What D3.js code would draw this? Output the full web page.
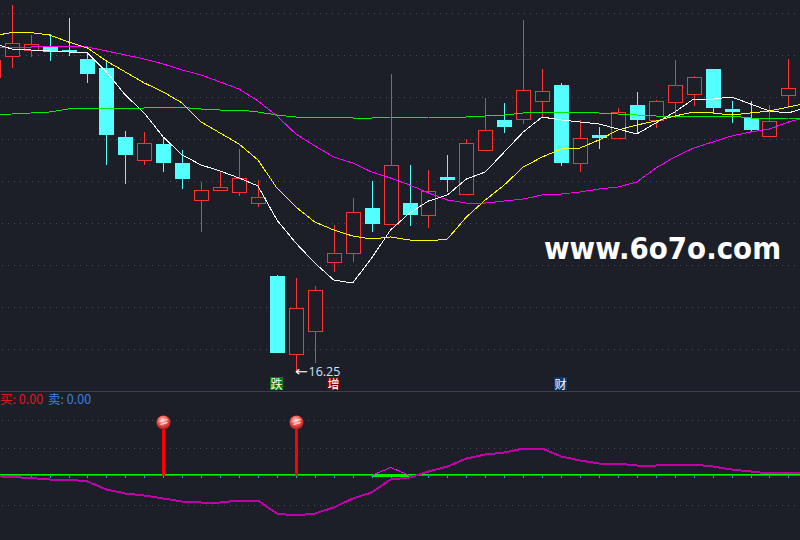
<!DOCTYPE html>
<html>
<head>
<meta charset="utf-8">
<script src="https://cdn.jsdelivr.net/npm/d3@7"></script>
<style>
  html, body { margin: 0; padding: 0; background: #1c1f28; overflow: hidden; }
  svg { display: block; }
</style>
</head>
<body>
<script>
// candles, oldest first
const opens  = [22.13,22.55,22.67,22.73,22.67,22.49,22.31,20.93,20.47,20.79,20.41,19.67,19.87,19.83,19.61,18.15,16.59,17.05,18.43,18.61,19.51,19.19,19.61,19.37,20.13,19.79,20.67,21.27,21.29,21.65,21.97,20.41,20.97,20.91,21.57,21.27,21.63,21.79,22.29,21.49,21.31,20.95,21.77];
const closes = [22.47,22.81,22.79,22.63,22.63,22.19,20.97,20.57,20.81,20.41,20.09,19.87,19.93,20.11,19.73,16.61,17.51,17.87,18.61,19.43,19.19,20.37,19.37,19.85,20.07,20.81,21.07,21.13,21.87,21.85,20.41,20.91,20.91,21.43,21.27,21.65,21.97,22.13,21.51,21.43,21.07,21.25,21.91];
const highs  = [22.47,23.57,22.97,22.99,23.31,22.61,22.45,21.05,21.03,20.91,20.67,20.03,20.25,20.69,20.07,18.17,18.11,17.95,19.17,19.71,20.05,22.19,20.37,20.27,20.57,20.89,21.71,21.61,23.27,22.29,22.01,21.27,21.13,21.51,21.83,21.67,22.47,22.15,22.29,21.65,21.65,21.57,22.49];
const lows   = [22.13,22.31,22.53,22.45,22.55,22.01,20.37,19.99,20.37,20.23,19.89,19.03,19.87,19.75,19.53,16.61,16.25,16.41,18.23,18.43,19.03,19.19,19.15,19.11,19.83,19.79,20.67,21.01,21.19,21.33,20.35,20.23,20.69,20.91,20.99,21.11,21.31,21.55,21.41,21.21,21.03,20.95,21.51];

// moving averages (one more point than candles, runs off the right edge)
const maWhite   = [22.81,22.69,22.67,22.65,22.63,22.61,22.23,21.77,21.41,20.93,20.57,20.37,20.25,20.11,19.95,19.27,18.81,18.41,18.07,18.01,18.51,19.07,19.41,19.65,19.77,20.09,20.23,20.63,21.03,21.33,21.27,21.23,21.19,21.09,20.99,21.21,21.43,21.69,21.69,21.73,21.59,21.45,21.41,21.53];
const maYellow  = [22.95,23.02,23.02,22.97,22.83,22.71,22.45,22.23,22.01,21.83,21.61,21.23,21.01,20.79,20.47,19.91,19.53,19.23,19.07,18.95,18.89,18.93,18.87,18.85,18.89,19.33,19.67,19.97,20.33,20.53,20.69,20.71,20.87,21.07,21.17,21.25,21.35,21.43,21.41,21.37,21.41,21.45,21.53,21.61];
const maMagenta = [22.71,22.73,22.73,22.75,22.75,22.73,22.65,22.57,22.49,22.39,22.27,22.17,22.03,21.89,21.65,21.35,20.99,20.75,20.53,20.41,20.23,20.11,19.97,19.81,19.67,19.61,19.61,19.65,19.69,19.77,19.79,19.83,19.89,19.93,20.03,20.31,20.53,20.71,20.83,20.95,21.03,21.09,21.23,21.33];
const maGreen   = [21.38,21.39,21.41,21.43,21.49,21.51,21.51,21.51,21.51,21.52,21.52,21.49,21.47,21.47,21.43,21.37,21.33,21.33,21.33,21.31,21.31,21.33,21.33,21.33,21.31,21.33,21.35,21.37,21.41,21.43,21.43,21.43,21.41,21.39,21.37,21.35,21.35,21.35,21.35,21.35,21.31,21.31,21.31,21.29];

const priceGrid = [23.41,22.57,21.73,20.89,20.05,19.21,18.37,17.53,16.69];

// lower panel
const indicator = [-0.5,-1.5,-2.5,-4,-4,-6,-14,-18,-20,-23,-26,-27,-27,-25,-25,-38,-40,-38,-32,-23,-17,-4,-2,4,9,17,21,23,27,27,19,15,12,12,10,10,11,11,9,6,4,2,3,3];
const spike = [0,0,0,0,0,0,0,0,0,0,0,0,0,0,0,0,0,0,0,0,0,8,0,0,0,0,0,0,0,0,0,0,0,0,0,0,0,0,0,0,0,0,0,0];
const indicatorGrid = [56,28,-29];
const buyIndex = [9,16];
const buyHeight = [53,53];
const thickZero = [20,21,22];

const tags = [
  { i: 15, text: '跌', bg: '#007a00' },
  { i: 18, text: '增', bg: '#7a0000' },
  { i: 30, text: '财', bg: '#0a3a72' }
];

const width = 800, height = 540;
const bg = '#1c1f28', red = '#ff3232', cyan = '#54ffff';

const svg = d3.select('body').append('svg').attr('width', width).attr('height', height);
svg.append('rect').attr('width', width).attr('height', height).attr('fill', bg);

const x = d3.scaleLinear().domain([0, 42]).range([-7.25, 788.44]);
const y = d3.scaleLinear().domain([23.67, 16.25]).range([0, 371]);
const yInd = d3.scaleLinear().domain([0, 53]).range([475.5, 422.5]);
const px = i => Math.round(x(i));
const crisp = v => Math.round(v) + 0.5;

const defs = svg.append('defs');
const ballGrad = defs.append('radialGradient').attr('id', 'ball')
  .attr('cx', '45%').attr('cy', '35%').attr('r', '65%');
ballGrad.append('stop').attr('offset', '0%').attr('stop-color', '#ffd8d0');
ballGrad.append('stop').attr('offset', '55%').attr('stop-color', '#f05050');
ballGrad.append('stop').attr('offset', '100%').attr('stop-color', '#a81818');

// grid
const dotted = (g, rows) => g.selectAll('line').data(rows).enter().append('line')
  .attr('x1', 2).attr('x2', width)
  .attr('y1', d => d).attr('y2', d => d)
  .attr('stroke', '#4c4f57')
  .attr('stroke-dasharray', '1,5');

dotted(svg.append('g'), priceGrid.map(d => crisp(y(d))));
dotted(svg.append('g'), indicatorGrid.map(d => crisp(yInd(d))));

svg.append('line').attr('x1', 0).attr('x2', width).attr('y1', 391.5).attr('y2', 391.5)
  .attr('stroke', '#3c404b');

// candles
const candles = svg.append('g').selectAll('g')
  .data(d3.range(opens.length))
  .enter().append('g');

candles.append('line')
  .attr('x1', i => px(i) + 0.5).attr('x2', i => px(i) + 0.5)
  .attr('y1', i => Math.round(y(highs[i]))).attr('y2', i => Math.round(y(lows[i])))
  .attr('stroke', i => closes[i] > opens[i] ? red : cyan);

candles.append('rect')
  .attr('x', i => closes[i] > opens[i] ? px(i) - 6.5 : px(i) - 7)
  .attr('width', i => closes[i] > opens[i] ? 14 : 15)
  .attr('y', i => {
    const t = y(Math.max(opens[i], closes[i]));
    return closes[i] > opens[i] ? crisp(t) : Math.round(t);
  })
  .attr('height', i => Math.max(2, Math.round(Math.abs(y(opens[i]) - y(closes[i])))))
  .attr('fill', i => closes[i] > opens[i] ? bg : cyan)
  .attr('stroke', i => closes[i] > opens[i] ? red : 'none');

// moving averages
const maLine = d3.line().x((d, i) => x(i)).y(d => y(d));
[[maGreen, '#00f000'], [maMagenta, '#ff00ff'], [maYellow, '#ffff00'], [maWhite, '#ffffff']].forEach(([s, c]) => {
  svg.append('path').attr('d', maLine(s))
    .attr('fill', 'none').attr('stroke', c)
    .attr('shape-rendering', 'crispEdges');
});

// lowest price note
svg.append('text').attr('x', 295).attr('y', 376)
  .attr('font-family', 'DejaVu Sans').attr('font-size', 13)
  .attr('textLength', 13).attr('lengthAdjust', 'spacingAndGlyphs')
  .attr('fill', '#ffffff').text('←');
svg.append('text').attr('x', 308.5).attr('y', 375.5)
  .attr('font-family', 'Open Sans, DejaVu Sans').attr('font-size', 12.5)
  .attr('fill', '#cfe4fa').text('16.25');

// tags under the candles
const tag = svg.append('g').selectAll('g').data(tags).enter().append('g');
tag.append('rect')
  .attr('x', d => px(d.i) - 7).attr('y', 377).attr('width', 13).attr('height', 13)
  .attr('fill', d => d.bg);
tag.append('text')
  .attr('x', d => px(d.i) - 0.5).attr('y', 388.5)
  .attr('text-anchor', 'middle')
  .attr('font-family', 'Noto Sans CJK SC').attr('font-size', 12)
  .attr('fill', '#ffffff')
  .text(d => d.text);

// watermark
svg.append('text').attr('x', 544).attr('y', 258.5)
  .attr('font-family', 'DejaVu Sans').attr('font-weight', 'bold').attr('font-size', 30)
  .attr('textLength', 237).attr('lengthAdjust', 'spacingAndGlyphs')
  .attr('fill', '#ffffff').text('www.6o7o.com');

// lower panel legend
const legend = svg.append('text').attr('y', 404)
  .attr('font-family', 'Noto Sans CJK SC, Open Sans').attr('font-size', 12.5);
legend.append('tspan').attr('x', 0).attr('fill', '#e81420').text('买: 0.00');
legend.append('tspan').attr('x', 48).attr('fill', '#3a7fe6').text('卖: 0.00');

// zero lines and ticks
const zero = yInd(0);
svg.append('line').attr('x1', 0).attr('x2', width).attr('y1', zero - 1).attr('y2', zero - 1)
  .attr('stroke', '#00f000');
svg.append('path')
  .attr('d', d3.line().x(i => x(i)).y(() => zero)(thickZero))
  .attr('stroke', '#00f000').attr('stroke-width', 3).attr('fill', 'none');

const indLine = d3.line().x((d, i) => x(i)).y(d => yInd(d));
svg.append('path').attr('d', indLine(spike))
  .attr('fill', 'none').attr('stroke', '#ff00ff')
  .attr('shape-rendering', 'crispEdges');

svg.append('g').selectAll('line').data(d3.range(opens.length + 1)).enter().append('line')
  .attr('x1', i => px(i) + 0.5).attr('x2', i => px(i) + 0.5)
  .attr('y1', zero + 0.5).attr('y2', zero + 2.5)
  .attr('stroke', '#2aa0ea');

svg.append('path').attr('d', indLine(indicator))
  .attr('fill', 'none').attr('stroke', '#c000a8').attr('stroke-width', 2)
  .attr('shape-rendering', 'crispEdges');

// buy pins
const pins = svg.append('g').selectAll('g').data(buyIndex).enter().append('g');
pins.append('rect')
  .attr('x', d => px(d) - 1).attr('width', 3)
  .attr('y', (d, i) => yInd(buyHeight[i])).attr('height', (d, i) => zero - yInd(buyHeight[i]))
  .attr('fill', '#ff0000');
pins.append('circle')
  .attr('cx', d => px(d) + 0.5).attr('cy', (d, i) => yInd(buyHeight[i])).attr('r', 7)
  .attr('fill', 'url(#ball)');
pins.append('path')
  .attr('d', (d, i) => {
    const cx = px(d) + 0.5, cy = yInd(buyHeight[i]);
    return `M${cx - 4},${cy - 1}L${cx + 4},${cy - 3}M${cx - 3},${cy + 2}L${cx + 4},${cy}`;
  })
  .attr('stroke', '#ffe8e4').attr('stroke-width', 1.2).attr('fill', 'none');
</script>
</body>
</html>
